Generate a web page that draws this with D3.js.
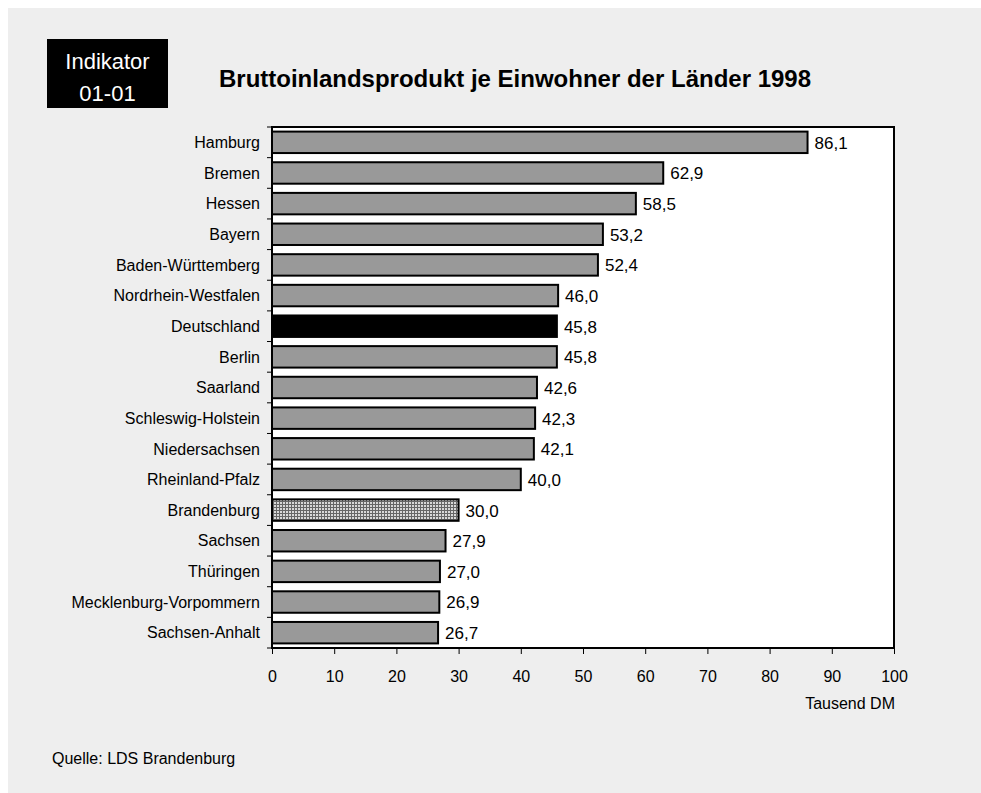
<!DOCTYPE html>
<html>
<head>
<meta charset="utf-8">
<script src="https://cdn.jsdelivr.net/npm/d3@7"></script>
<style>
  body { margin: 0; background: #ffffff; }
  text { font-family: "Liberation Sans", Arial, sans-serif; }
</style>
</head>
<body>
<div id="chart"></div>
<script>
// dimensions
var width = 981
var height = 793

// données
var laender = ["Hamburg", "Bremen", "Hessen", "Bayern", "Baden-Württemberg",
  "Nordrhein-Westfalen", "Deutschland", "Berlin", "Saarland", "Schleswig-Holstein",
  "Niedersachsen", "Rheinland-Pfalz", "Brandenburg", "Sachsen", "Thüringen",
  "Mecklenburg-Vorpommern", "Sachsen-Anhalt"]
var werte = [86.1, 62.9, 58.5, 53.2, 52.4, 46.0, 45.8, 45.8, 42.6, 42.3, 42.1, 40.0,
  30.0, 27.9, 27.0, 26.9, 26.7]
var xTicks = [0, 10, 20, 30, 40, 50, 60, 70, 80, 90, 100]

var titel = "Bruttoinlandsprodukt je Einwohner der Länder 1998"
var indikator = ["Indikator", "01-01"]
var einheit = "Tausend DM"
var quelle = "Quelle: LDS Brandenburg"

var data = laender.map(function(d, i) { return { land: d, wert: werte[i] } })

// zone du graphique
var plot = { left: 272, right: 894, top: 127, bottom: 648 }

var svg = d3.select("#chart")
  .append("svg")
    .attr("width", width)
    .attr("height", height)

// motif pour le Brandenburg
var defs = svg.append("defs")
var pat = defs.append("pattern")
    .attr("id", "raster")
    .attr("width", 3)
    .attr("height", 3)
    .attr("patternUnits", "userSpaceOnUse")
pat.append("rect").attr("width", 3).attr("height", 3).attr("fill", "#d8d8d8")
pat.append("rect").attr("width", 3).attr("height", 1).attr("fill", "#666666")
pat.append("rect").attr("width", 1).attr("height", 3).attr("fill", "#666666")

// fond gris
svg.append("rect")
    .attr("x", 8)
    .attr("y", 8)
    .attr("width", width - 8)
    .attr("height", height - 8)
    .attr("fill", "#eeeeee")

// boîte Indikator
svg.append("rect")
    .attr("x", 47)
    .attr("y", 39)
    .attr("width", 121)
    .attr("height", 69)
    .attr("fill", "#000000")
svg.selectAll("text.ind")
  .data(indikator)
  .enter()
  .append("text")
    .attr("class", "ind")
    .attr("x", 107.5)
    .attr("y", function(d, i) { return 69 + i * 32 })
    .attr("text-anchor", "middle")
    .style("font-size", "22px")
    .style("fill", "#ffffff")
    .text(function(d) { return d })

// titre
svg.append("text")
    .attr("x", 515)
    .attr("y", 87)
    .attr("text-anchor", "middle")
    .style("font-size", "24px")
    .style("font-weight", "bold")
    .text(titel)

// échelles
var x = d3.scaleLinear()
  .domain([0, 100])
  .range([plot.left, plot.right])

var y = d3.scaleBand()
  .domain(laender)
  .range([plot.top, plot.bottom])
  .paddingInner(0.3)
  .paddingOuter(0.15)

// zone blanche
svg.append("rect")
    .attr("x", plot.left)
    .attr("y", plot.top)
    .attr("width", plot.right - plot.left)
    .attr("height", plot.bottom - plot.top)
    .attr("fill", "#ffffff")

// barres
svg.append("g")
  .selectAll("rect")
  .data(data)
  .enter()
  .append("rect")
    .attr("x", x(0))
    .attr("y", function(d) { return y(d.land) })
    .attr("width", function(d) { return x(d.wert) - x(0) })
    .attr("height", y.bandwidth())
    .attr("fill", function(d) {
      if (d.land == "Deutschland") return "#000000"
      if (d.land == "Brandenburg") return "url(#raster)"
      return "#999999"
    })
    .attr("stroke", "#000000")
    .attr("stroke-width", 2)

// valeurs
svg.append("g")
  .selectAll("text")
  .data(data)
  .enter()
  .append("text")
    .attr("x", function(d) { return x(d.wert) + 7 })
    .attr("y", function(d) { return y(d.land) + y.bandwidth() / 2 })
    .attr("dy", "0.38em")
    .style("font-size", "17px")
    .text(function(d) { return d3.format(".1f")(d.wert).replace(".", ",") })

// cadre
svg.append("rect")
    .attr("x", plot.left)
    .attr("y", plot.top)
    .attr("width", plot.right - plot.left)
    .attr("height", plot.bottom - plot.top)
    .attr("fill", "none")
    .attr("stroke", "#000000")
    .attr("stroke-width", 2)

// axe y : graduations entre les catégories
var bounds = d3.range(laender.length + 1).map(function(i) {
  return plot.top + i * (plot.bottom - plot.top) / laender.length
})
svg.append("g")
  .selectAll("line")
  .data(bounds)
  .enter()
  .append("line")
    .attr("x1", plot.left - 5)
    .attr("x2", plot.left)
    .attr("y1", function(d) { return d })
    .attr("y2", function(d) { return d })
    .attr("stroke", "#000000")
    .attr("stroke-width", 1)

svg.append("g")
  .selectAll("text")
  .data(laender)
  .enter()
  .append("text")
    .attr("x", plot.left - 12)
    .attr("y", function(d) { return y(d) + y.bandwidth() / 2 })
    .attr("dy", "0.36em")
    .attr("text-anchor", "end")
    .style("font-size", "16px")
    .text(function(d) { return d })

// axe x
var xAxis = svg.append("g")
    .attr("transform", "translate(0," + plot.bottom + ")")
    .call(d3.axisBottom(x).tickValues(xTicks).tickSize(6).tickPadding(16.5).tickSizeOuter(0))
xAxis.select(".domain").remove()
xAxis.selectAll("line").attr("stroke-width", 1)
xAxis.selectAll("text")
    .style("font-size", "16px")
    .style("font-family", "'Liberation Sans', Arial, sans-serif")

svg.append("text")
    .attr("x", plot.right + 1)
    .attr("y", 709)
    .attr("text-anchor", "end")
    .style("font-size", "16px")
    .text(einheit)

// source
svg.append("text")
    .attr("x", 52)
    .attr("y", 764)
    .style("font-size", "16px")
    .text(quelle)
</script>
</body>
</html>
